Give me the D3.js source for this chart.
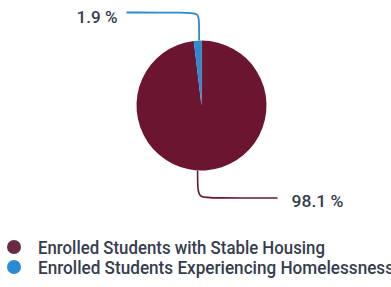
<!DOCTYPE html>
<html>
<head>
<meta charset="utf-8">
<script src="https://cdn.jsdelivr.net/npm/d3@7"></script>
<style>
  body { margin: 0; background: #fff; }
  text { font-family: Roboto, sans-serif; fill: #363d4e; font-weight: 500; }
</style>
</head>
<body>
<svg width="391" height="287"></svg>
<script>
// data
var categories = ["Enrolled Students with Stable Housing", "Enrolled Students Experiencing Homelessness"];
var values = [98.1, 1.9];
var valueLabels = ["98.1 %", "1.9 %"];
var colors = ["#6b1530", "#2a8ad4"];

var svg = d3.select("svg"),
    cx = 201.5, cy = 105.5, r = 65;

var pie = d3.pie().sort(null).value(function(d) { return d; });
var arc = d3.arc().innerRadius(0).outerRadius(r);

var g = svg.append("g").attr("transform", "translate(" + cx + "," + cy + ")");

g.selectAll("path.slice")
  .data(pie(values))
  .enter().append("path")
    .attr("class", "slice")
    .attr("d", arc)
    .attr("fill", function(d, i) { return colors[i]; });

// leader lines
var arcs = pie(values);
var lead = d3.line().curve(d3.curveBasis);
// stable housing, goes from bottom of the pie down then right
var mid0 = Math.PI + 0.06;
var p0 = [r * Math.sin(mid0), -r * Math.cos(mid0)];
g.append("path")
  .attr("d", lead([p0, [p0[0], 84], [p0[0] + 2, 92], [p0[0] + 14, 92.5], [76, 92.5]]))
  .attr("fill", "none").attr("stroke", colors[0]).attr("stroke-width", 1.6);
g.append("text")
  .attr("x", 90).attr("y", 101)
  .attr("font-size", 17)
  .attr("textLength", 52).attr("lengthAdjust", "spacingAndGlyphs")
  .text(valueLabels[0]);

// homelessness, goes from top up then left
var a1 = arcs[1], mid1 = (a1.startAngle + a1.endAngle) / 2;
var p1 = [r * Math.sin(mid1) + 1.5, -r * Math.cos(mid1)];
g.append("path")
  .attr("d", lead([p1, [p1[0], -86], [p1[0] - 1, -92], [p1[0] - 12, -93], [-75, -93]]))
  .attr("fill", "none").attr("stroke", colors[1]).attr("stroke-width", 1.8);
g.append("text")
  .attr("x", -125).attr("y", -83)
  .attr("font-size", 17)
  .attr("textLength", 41).attr("lengthAdjust", "spacingAndGlyphs")
  .text(valueLabels[1]);

// legend
var legend = svg.append("g").attr("transform", "translate(0,247)");
var item = legend.selectAll("g")
  .data(categories)
  .enter().append("g")
    .attr("transform", function(d, i) { return "translate(0," + (i * 20) + ")"; });
item.append("circle")
  .attr("cx", 14).attr("cy", 0).attr("r", 7)
  .attr("fill", function(d, i) { return i === 0 ? "#6a2a45" : "#2a8ad4"; });
item.append("text")
  .attr("x", 38).attr("y", 6.5)
  .attr("font-size", 18.5)
  .attr("textLength", function(d, i) { return i === 0 ? 287 : 356; })
  .attr("lengthAdjust", "spacingAndGlyphs")
  .text(function(d) { return d; });
</script>
</body>
</html>
